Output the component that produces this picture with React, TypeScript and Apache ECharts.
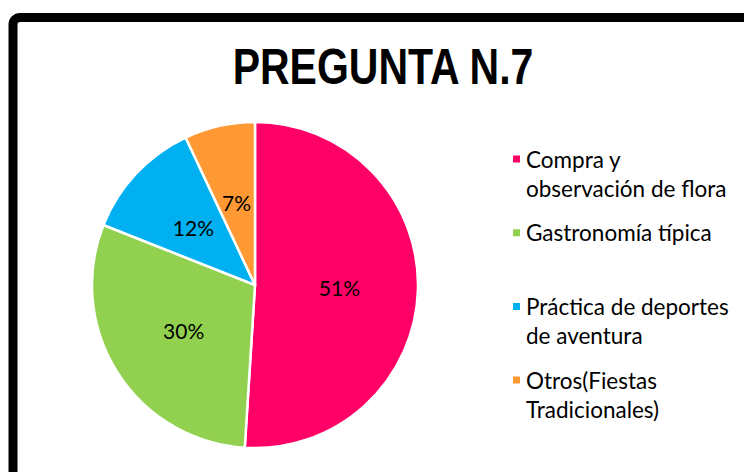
import React, { useEffect, useRef } from "react";
import * as echarts from "echarts";

const titleText = "PREGUNTA N.7";
const categories = [
  "Compra y\nobservación de flora",
  "Gastronomía típica",
  "Práctica de deportes\nde aventura",
  "Otros(Fiestas\nTradicionales)",
];
const values = [51, 30, 12, 7];
const colors = ["#FF0066", "#92D050", "#00B0F0", "#FF9933"];

export default function App() {
  const ref = useRef<HTMLDivElement>(null);
  useEffect(() => {
    if (!ref.current) return;
    const chart = echarts.init(ref.current, null, { renderer: "svg" });
    const option = {
      animation: false,
      backgroundColor: "#ffffff",
      graphic: [
        {
          type: "rect",
          z: -10,
          shape: { x: 13, y: 17.5, width: 900, height: 600, r: 7 },
          style: { fill: "none", stroke: "#000000", lineWidth: 9 },
        },
        {
          type: "text",
          x: 383,
          y: 67,
          scaleX: 0.82,
          style: {
            text: titleText,
            fill: "#000000",
            font: "bold 50px 'Liberation Sans', Arial, sans-serif",
            textAlign: "center",
            textVerticalAlign: "middle",
          },
        },
      ],
      legend: {
        orient: "vertical",
        left: 511,
        top: 115.5,
        padding: 0,
        icon: "rect",
        itemWidth: 9,
        itemHeight: 9,
        itemGap: -13.3,
        data: categories,
        formatter: (name: string) => {
          const lines = name.split("\n");
          return " \n" + lines[0] + "\n" + (lines[1] || " ");
        },
        textStyle: {
          fontFamily: "Lato",
          fontSize: 22.5,
          lineHeight: 29,
          color: "#000000",
        },
      },
      series: [
        {
          type: "pie",
          center: [255, 285],
          radius: 163,
          startAngle: 90,
          clockwise: true,
          avoidLabelOverlap: false,
          itemStyle: { borderColor: "#ffffff", borderWidth: 2.5 },
          label: {
            show: true,
            position: "inside",
            formatter: "{c}%",
            fontFamily: "Lato",
            fontSize: 21,
            color: "#000000",
          },
          labelLine: { show: false },
          emphasis: { disabled: true },
          data: categories.map((name, i) => ({
            name,
            value: values[i],
            itemStyle: { color: colors[i] },
          })),
        },
      ],
    };
    chart.setOption(option as any);
    return () => chart.dispose();
  }, []);
  return (
    <div
      ref={ref}
      style={{ position: "fixed", left: 0, top: 0, width: 744, height: 472 }}
    />
  );
}
